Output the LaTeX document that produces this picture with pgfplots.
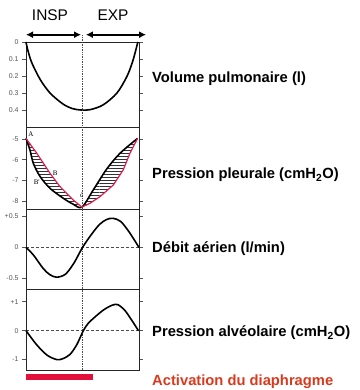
\documentclass[border=0pt]{standalone}
\usepackage{pgfplots}
\pgfplotsset{compat=1.18}
\usetikzlibrary{patterns,arrows.meta}
\usepackage{fontspec}
\setmainfont{Liberation Sans}
\newfontfamily\serifl{Liberation Serif}
\definecolor{crim}{HTML}{DC1F4E}
\definecolor{barred}{HTML}{E3103C}
\definecolor{labred}{HTML}{D93A1E}
\definecolor{tickgray}{HTML}{555555}
\begin{document}
\begin{tikzpicture}
\useasboundingbox (0bp,0bp) rectangle (360bp,-390bp);
\pgfplotsset{
  panel/.style={
    scale only axis, width=113bp, xmin=0, xmax=4, xtick=\empty,
    anchor=south west, axis line style={draw=black!85, line width=0.8bp},
    tick align=outside, major tick length=4bp,
    ytick style={draw=tickgray, line width=0.6bp},
    yticklabel style={font=\fontsize{7}{8}\selectfont, text=tickgray},
    /pgf/number format/assume math mode=true,
    clip=false,
  },
  curve/.style={black, line width=1.6bp, smooth, no marks},
}
% Panel 1: volume
\begin{axis}[panel, at={(26bp,-127bp)}, height=85bp, ymin=0, ymax=0.5, y dir=reverse,
  ytick={0,0.1,0.2,0.3,0.4}, yticklabels={0,0.1,0.2,0.3,0.4}]
\addplot[curve] coordinates {(0,0) (0.06,0.045) (0.2,0.12) (0.5,0.22) (0.85,0.30) (1.31,0.365) (1.65,0.392) (1.95,0.40) (2.27,0.398) (2.73,0.37) (3.22,0.30) (3.58,0.20) (3.79,0.106) (3.96,0.0)};
\addplot[densely dotted, black!70, line width=0.7bp] coordinates {(2,-0.04) (2,0.5)};
\draw[{Latex[length=7bp,width=7bp]}-{Latex[length=7bp,width=7bp]}, line width=1.8bp] (axis cs:0,-0.043) -- (axis cs:1.95,-0.043);
\draw[{Latex[length=7bp,width=7bp]}-{Latex[length=7bp,width=7bp]}, line width=1.8bp] (axis cs:2.12,-0.043) -- (axis cs:4.25,-0.043);
\node[font=\fontsize{15.5}{17}\selectfont] at (axis cs:0.85,-0.16) {INSP};
\node[font=\fontsize{15.5}{17}\selectfont] at (axis cs:3.08,-0.16) {EXP};
\end{axis}
% Panel 2: pleural pressure
\begin{axis}[panel, at={(26bp,-209bp)}, height=82bp, ymin=-8.39, ymax=-4.42,
  ytick={-8,-7,-6,-5}, yticklabels={-8,-7,-6,-5}]
\addplot[pattern=horizontal lines, pattern color=black!80, draw=none] coordinates {(0,-4.97) (0.14,-5.53) (0.26,-6.18) (0.5,-6.82) (0.85,-7.39) (1.32,-7.87) (1.66,-8.15) (1.98,-8.3) (2.38,-7.47) (2.86,-6.45) (3.33,-5.69) (3.95,-4.97)
 (3.68,-5.69) (3.44,-6.5) (3.09,-7.23) (2.62,-7.79) (2.27,-8.11) (1.98,-8.3) (1.67,-7.95) (1.2,-7.3) (0.85,-6.66) (0.38,-5.69)} -- cycle;
\addplot[curve] coordinates {(0,-4.97) (0.14,-5.53) (0.26,-6.18) (0.5,-6.82) (0.85,-7.39) (1.32,-7.87) (1.66,-8.15) (1.98,-8.3) (2.38,-7.47) (2.86,-6.45) (3.33,-5.69) (3.95,-4.97)};
\addplot[crim, line width=1.2bp, no marks] coordinates {(0,-4.97) (0.38,-5.69) (0.85,-6.66) (1.2,-7.3) (1.67,-7.95) (1.98,-8.3) (2.27,-8.11) (2.62,-7.79) (3.09,-7.23) (3.44,-6.5) (3.68,-5.69) (3.95,-4.97)};
\addplot[densely dotted, black!70, line width=0.7bp] coordinates {(2,-8.39) (2,-4.42)};
\node[font=\serifl\fontsize{7}{8}\selectfont] at (axis cs:0.17,-4.76) {A};
\node[font=\serifl\fontsize{7}{8}\selectfont] at (axis cs:1.03,-6.66) {B};
\node[font=\serifl\fontsize{7}{8}\selectfont] at (axis cs:0.38,-7.07) {B'};
\node[font=\serifl\fontsize{7}{8}\selectfont] at (axis cs:1.97,-7.71) {ć};
\end{axis}
% Panel 3: flow
\begin{axis}[panel, at={(26bp,-289bp)}, height=80bp, ymin=-0.67, ymax=0.62,
  ytick={-0.5,0,0.5}, yticklabels={-0.5,0,+0.5}]
\addplot[densely dashed, black!70, line width=0.6bp] coordinates {(0,0) (4,0)};
\addplot[densely dotted, black!70, line width=0.7bp] coordinates {(2,-0.67) (2,0.62)};
\addplot[curve] coordinates {(0,0) (0.26,-0.12) (0.61,-0.34) (0.85,-0.44) (1.09,-0.48) (1.4,-0.43) (1.7,-0.25) (2.0,0) (2.3,0.2) (2.6,0.37) (2.85,0.45) (3.08,0.47) (3.35,0.42) (3.65,0.25) (4.0,0)};
\end{axis}
% Panel 4: alveolar pressure
\begin{axis}[panel, at={(26bp,-370bp)}, height=81bp, ymin=-1.36, ymax=1.44,
  ytick={-1,0,1}, yticklabels={-1,0,+1}]
\addplot[densely dashed, black!70, line width=0.6bp] coordinates {(0,0) (4,0)};
\addplot[densely dotted, black!70, line width=0.7bp] coordinates {(2,-1.36) (2,1.44)};
\addplot[curve] coordinates {(0,0) (0.38,-0.49) (0.75,-0.85) (1.09,-1.0) (1.3,-0.97) (1.56,-0.82) (1.8,-0.48) (2.03,0) (2.2,0.25) (2.45,0.48) (2.75,0.72) (3.05,0.88) (3.25,0.9) (3.5,0.7) (3.75,0.35) (3.98,0)};
\addplot[fill=barred, draw=none] coordinates {(0,-1.50) (2.37,-1.50) (2.37,-1.72) (0,-1.72)} -- cycle;
\end{axis}
% Right labels
\begin{scope}[every node/.style={anchor=west, font=\bfseries\fontsize{14.8}{16}\selectfont, inner sep=0pt}]
\node at (152bp,-79bp) {Volume pulmonaire (l)};
\node at (152bp,-175bp) {Pression pleurale (cmH\textsubscript{2}O)};
\node at (152bp,-249bp) {Débit aérien (l/min)};
\node at (152bp,-333bp) {Pression alvéolaire (cmH\textsubscript{2}O)};
\node[text=labred] at (152bp,-382bp) {Activation du diaphragme};
\end{scope}
\end{tikzpicture}
\end{document}
